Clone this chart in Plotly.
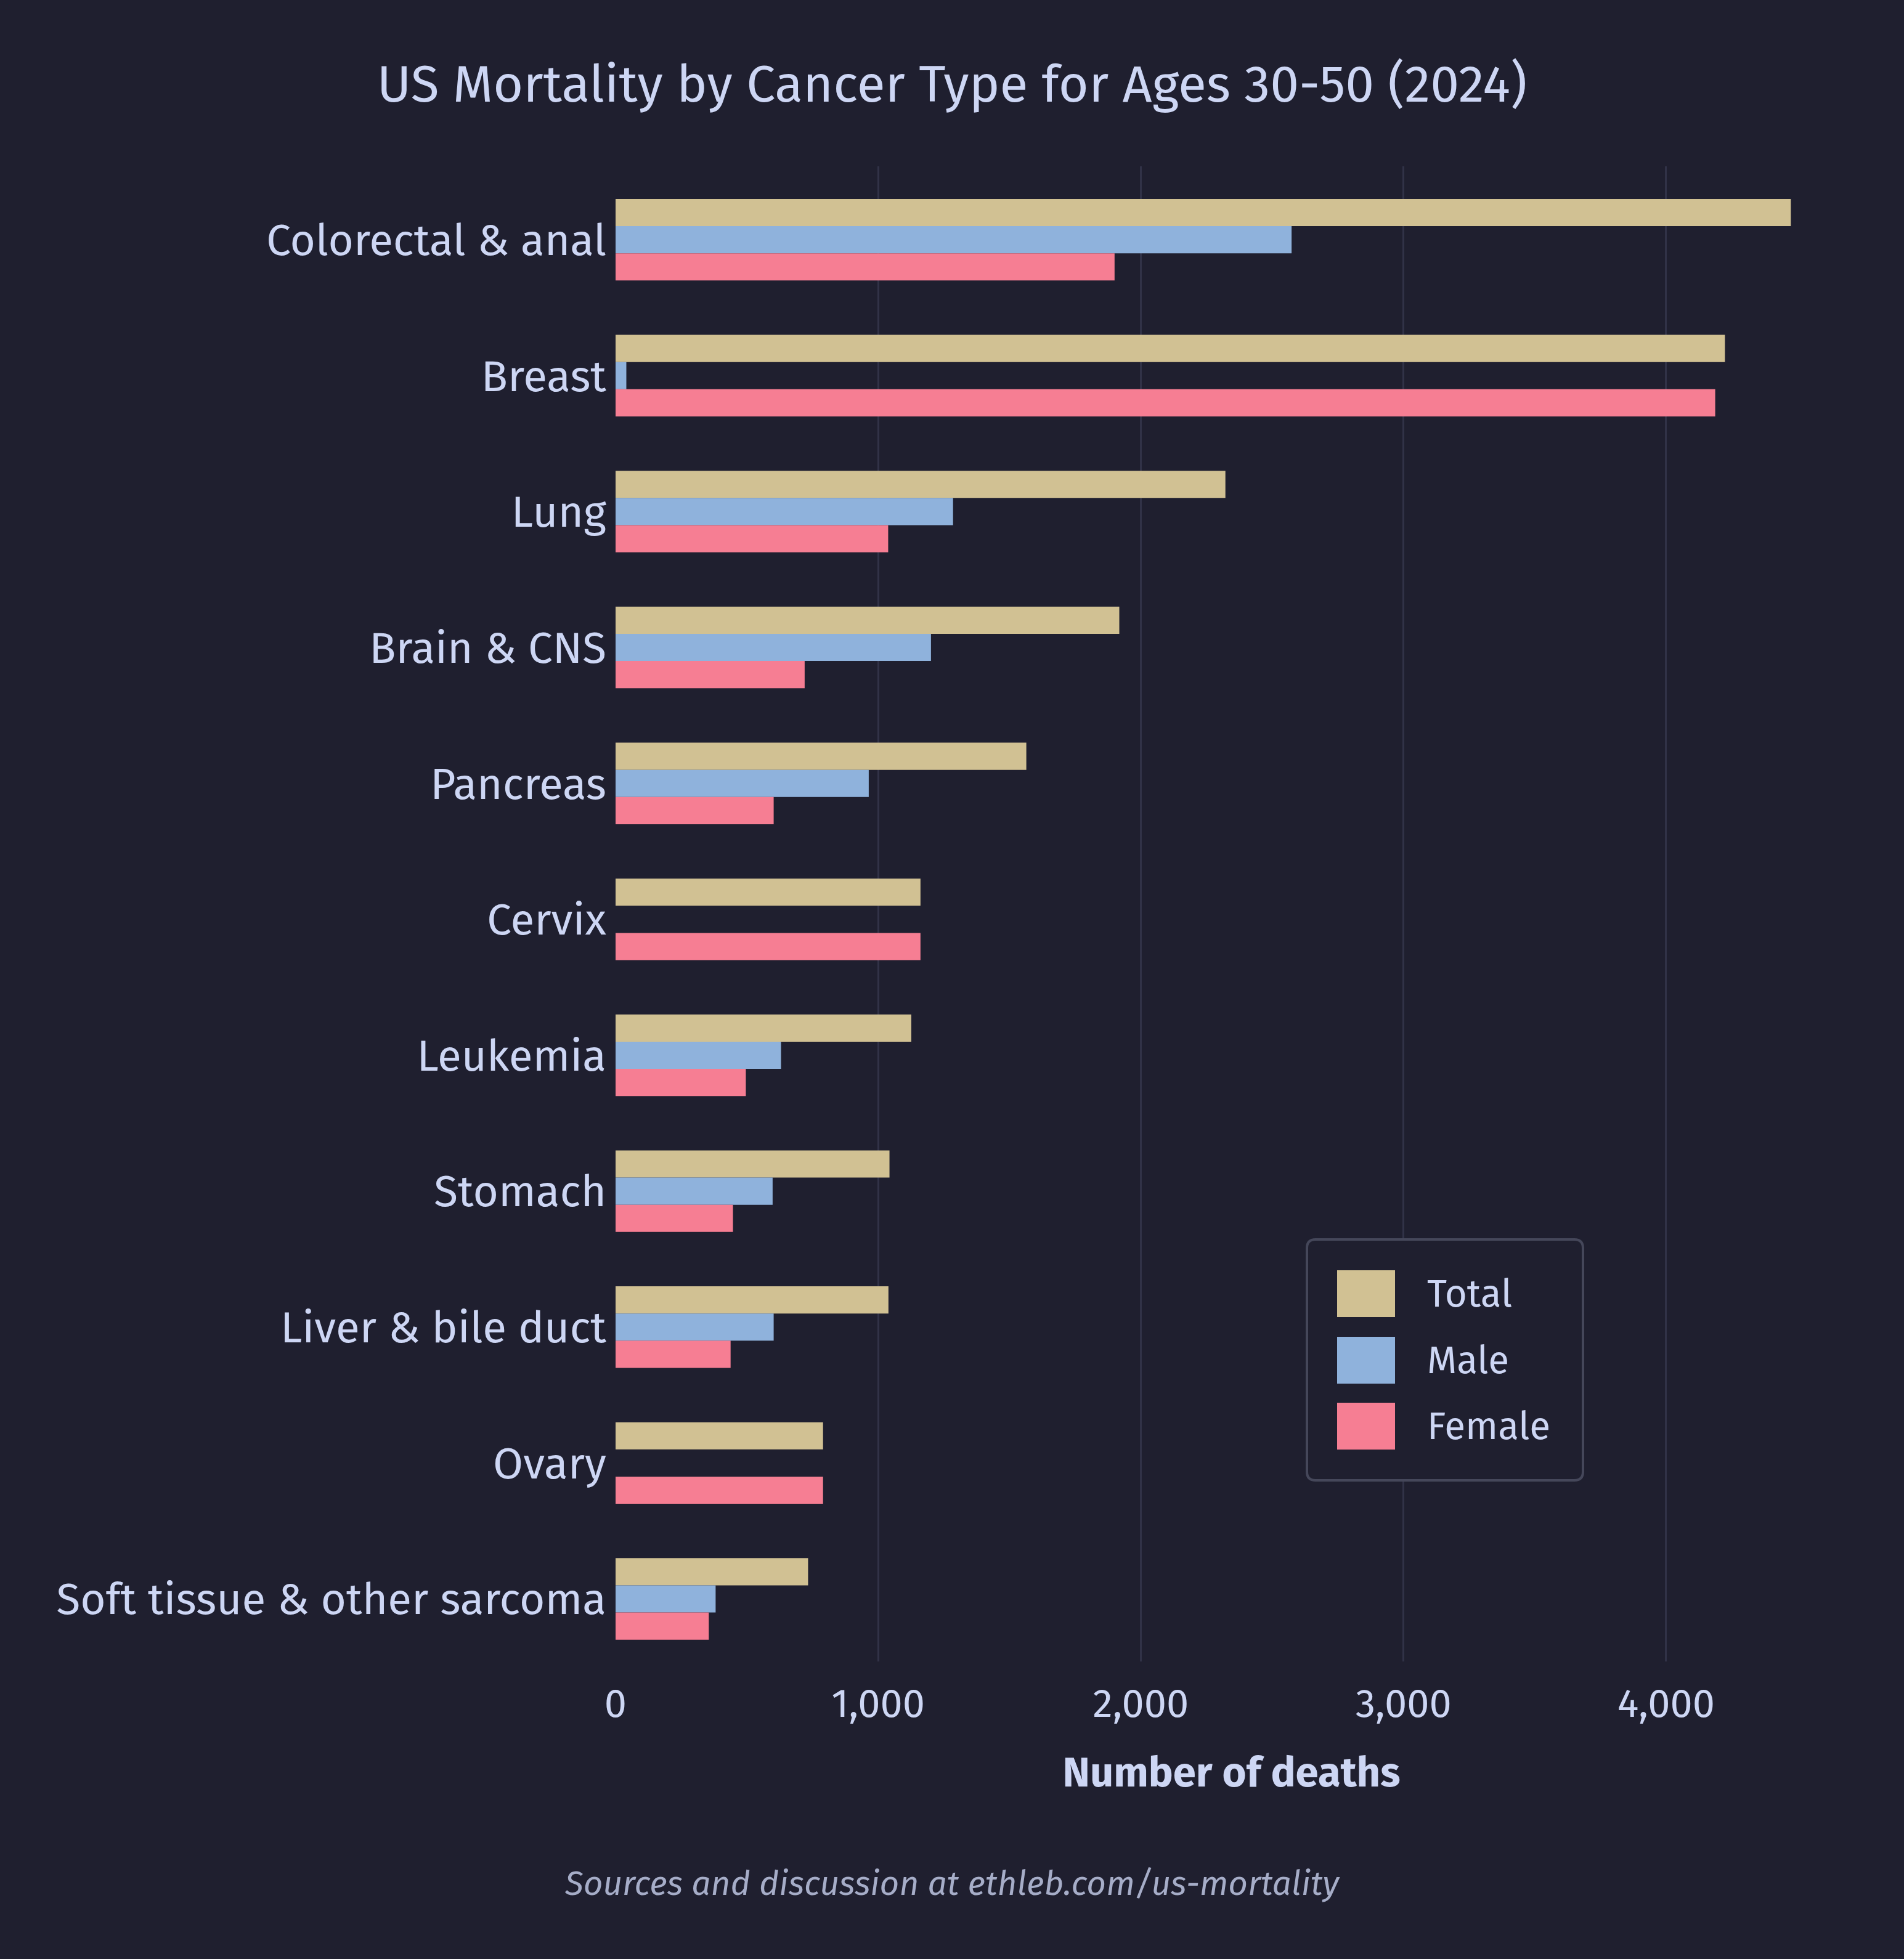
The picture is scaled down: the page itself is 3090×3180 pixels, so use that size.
import plotly.graph_objects as go

categories = ["Colorectal & anal", "Breast", "Lung", "Brain & CNS", "Pancreas", "Cervix",
              "Leukemia", "Stomach", "Liver & bile duct", "Ovary", "Soft tissue & other sarcoma"]
total = [4475, 4224, 2322, 1918, 1564, 1161, 1126, 1043, 1039, 790, 733]
male = [2574, 41, 1285, 1201, 964, 0, 630, 598, 602, 0, 381]
female = [1900, 4187, 1038, 720, 602, 1161, 496, 447, 438, 790, 355]
series_names = ["Total", "Male", "Female"]
series_colors = ["#d1c193", "#8fb2dc", "#f67e93"]
x_ticks = [0, 1000, 2000, 3000, 4000]
x_tick_labels = ["0", "1,000", "2,000", "3,000", "4,000"]

BG = "#1f1f2f"
TXT = "#cdd6f4"
FONT = "Fira Sans, Open Sans, sans-serif"

W, H = 3090, 3180
L, R, T, B = 999, 92, 270, 483
PW, PH = W - L - R, H - T - B


def px(xp):
    return (xp - L) / PW


def py(yp):
    return (H - B - yp) / PH


fig = go.Figure()
for name, vals, col in zip(series_names, [total, male, female], series_colors):
    fig.add_trace(go.Bar(y=categories, x=vals, name=name, orientation="h",
                         marker=dict(color=col, line=dict(width=0)), showlegend=False))

fig.update_layout(
    width=W, height=H,
    paper_bgcolor=BG, plot_bgcolor=BG,
    margin=dict(l=L, r=R, t=T, b=B, autoexpand=False),
    barmode="group", bargap=0.4, bargroupgap=0,
    font=dict(family=FONT, color=TXT, size=65),
    title=dict(text="US Mortality by Cancer Type for Ages 30-50 (2024)",
               x=0.5, xanchor="center", y=1 - 136 / H, yanchor="middle",
               font=dict(size=84, color=TXT, family=FONT)),
    xaxis=dict(range=[0, 4690], tickvals=x_ticks, ticktext=x_tick_labels,
               showgrid=True, gridcolor="#313247", gridwidth=3, zeroline=False,
               showline=False, ticks="", ticklabelstandoff=24,
               tickfont=dict(size=65, color=TXT),
               title=dict(text="<b>Number of deaths</b>", standoff=50,
                          font=dict(size=67, color=TXT))),
    yaxis=dict(range=[10.46, -0.54], showgrid=False, zeroline=False, showline=False,
               ticks="", ticklabelstandoff=14, tickfont=dict(size=71, color=TXT)),
)

# custom legend (box + swatches + labels)
bx0, bx1, by0, by1, r = 2121, 2569, 2012, 2403, 14
path = (f"M {px(bx0 + r)},{py(by0)} L {px(bx1 - r)},{py(by0)} Q {px(bx1)},{py(by0)} {px(bx1)},{py(by0 + r)} "
        f"L {px(bx1)},{py(by1 - r)} Q {px(bx1)},{py(by1)} {px(bx1 - r)},{py(by1)} "
        f"L {px(bx0 + r)},{py(by1)} Q {px(bx0)},{py(by1)} {px(bx0)},{py(by1 - r)} "
        f"L {px(bx0)},{py(by0 + r)} Q {px(bx0)},{py(by0)} {px(bx0 + r)},{py(by0)} Z")
fig.add_shape(type="path", path=path, xref="paper", yref="paper",
              line=dict(color="#45475a", width=4), fillcolor=BG, layer="above")
row_centers = [2100, 2208, 2315]
for name, col, yc in zip(series_names, series_colors, row_centers):
    fig.add_shape(type="rect", xref="paper", yref="paper",
                  x0=px(2170), x1=px(2264), y0=py(yc - 38), y1=py(yc + 38),
                  fillcolor=col, line=dict(width=0), layer="above")
    fig.add_annotation(text=name, xref="paper", yref="paper", x=px(2314), y=py(yc),
                       xanchor="left", yanchor="middle", showarrow=False,
                       font=dict(size=62, color=TXT, family=FONT))

fig.add_annotation(text="<i>Sources and discussion at ethleb.com/us-mortality</i>",
                   xref="paper", yref="paper", x=(1545 - L) / PW, y=py(3058),
                   xanchor="center", yanchor="middle", showarrow=False,
                   font=dict(size=55, color="#a6adc8", family=FONT))

fig.write_html("out.html")
